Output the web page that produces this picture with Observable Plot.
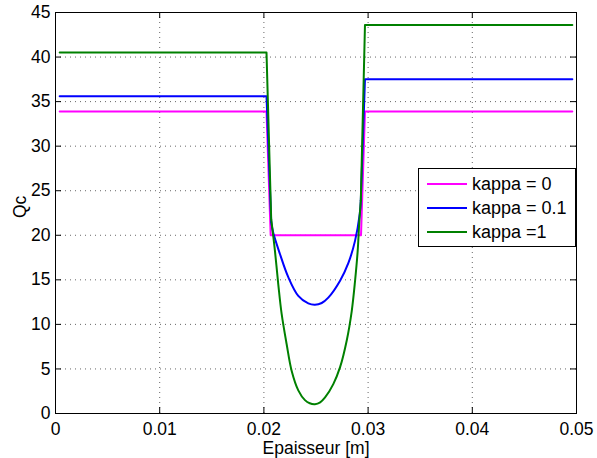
<!DOCTYPE html>
<html>
<head>
<meta charset="utf-8">
<script src="https://cdn.jsdelivr.net/npm/d3@7"></script>
<script src="https://cdn.jsdelivr.net/npm/@observablehq/plot@0.6"></script>
<style>
  html, body { margin: 0; padding: 0; background: white; }
  #wrap { position: relative; width: 597px; height: 458px; font-family: "Liberation Sans", Arial, sans-serif; }
  #legend { position: absolute; left: 418px; top: 168px; width: 158px; height: 79px; border: 1px solid #000; background: #fff; box-sizing: border-box; }
  .row { position: absolute; left: 0; height: 24px; display: flex; align-items: center; font-size: 18px; color: #000; white-space: nowrap; }
  .sw { width: 40px; height: 2px; margin-left: 8px; margin-right: 5px; }
</style>
</head>
<body>
<div id="wrap"></div>
<script>
// ---- data ----
const seriesNames = ["kappa = 0", "kappa = 0.1", "kappa =1"];
const seriesColors = ["#ff00ff", "#0000ff", "#008000"];

const xKappa0 = [0.0004, 0.02025, 0.02065, 0.02932, 0.0297, 0.0496];
const yKappa0 = [33.9, 33.9, 20.0, 20.0, 33.9, 33.9];

const xKappa01 = [0.0004, 0.02025, 0.0207, 0.02089, 0.02154, 0.02234, 0.0233, 0.02426, 0.0249, 0.02555, 0.02618, 0.02731, 0.02811, 0.02875, 0.0292, 0.0293, 0.0297, 0.0496];
const yKappa01 = [35.6, 35.6, 21.5, 20.3, 17.9, 15.3, 13.2, 12.35, 12.2, 12.4, 13.0, 14.9, 16.9, 19.4, 22.4, 23.9, 37.5, 37.5];

const xKappa1 = [0.0004, 0.02025, 0.0207, 0.02106, 0.02138, 0.0217, 0.02218, 0.02266, 0.0233, 0.02394, 0.0244, 0.0249, 0.0254, 0.02587, 0.02666, 0.02731, 0.02795, 0.02843, 0.02875, 0.029, 0.02916, 0.0293, 0.0297, 0.0496];
const yKappa1 = [40.5, 40.5, 21.8, 18.25, 14.5, 11.2, 7.8, 4.8, 2.6, 1.5, 1.15, 1.05, 1.25, 1.8, 3.3, 5.2, 8.2, 11.5, 14.9, 18.25, 21.6, 23.9, 43.6, 43.6];

const xTicks = [0, 0.01, 0.02, 0.03, 0.04, 0.05];
const xTickLabels = ["0", "0.01", "0.02", "0.03", "0.04", "0.05"];
const yTicks = [0, 5, 10, 15, 20, 25, 30, 35, 40, 45];
const yTickLabels = ["0", "5", "10", "15", "20", "25", "30", "35", "40", "45"];
const xLabel = "Epaisseur [m]";
const yLabel = "Qc";

// ---- build tables ----
function rows(xs, ys, s) { return xs.map((x, i) => ({x, y: ys[i], s, i, n: xs.length})); }
const all = [
  rows(xKappa0, yKappa0, 0),
  rows(xKappa01, yKappa01, 1),
  rows(xKappa1, yKappa1, 2)
];

const W = 597, H = 458;
const mL = 55, mR = 21, mT = 12, mB = 45;
const innerH = H - mT - mB, innerW = W - mL - mR;
const tick = 6;
const font = '"Liberation Sans", Arial, sans-serif';

const lineMarks = [];
all.forEach((data, s) => {
  const c = seriesColors[s];
  if (s === 0) {
    lineMarks.push(Plot.line(data, {x: "x", y: "y", stroke: c, strokeWidth: 2}));
  } else {
    const n = data.length;
    lineMarks.push(Plot.line(data.filter(d => d.i <= 2), {x: "x", y: "y", stroke: c, strokeWidth: 2}));
    lineMarks.push(Plot.line(data.filter(d => d.i >= 2 && d.i <= n - 3), {x: "x", y: "y", stroke: c, strokeWidth: 2, curve: "catmull-rom"}));
    lineMarks.push(Plot.line(data.filter(d => d.i >= n - 3), {x: "x", y: "y", stroke: c, strokeWidth: 2}));
  }
});

const chart = Plot.plot({
  width: W, height: H,
  marginLeft: mL, marginRight: mR, marginTop: mT, marginBottom: mB,
  style: {fontFamily: font, fontSize: "17.5px", background: "white", color: "black", overflow: "visible"},
  x: {domain: [0, 0.05], label: null},
  y: {domain: [0, 45], label: null},
  marks: [
    Plot.gridX(xTicks, {stroke: "#000", strokeOpacity: 0.6, strokeDasharray: "1,4"}),
    Plot.gridY(yTicks, {stroke: "#000", strokeOpacity: 0.6, strokeDasharray: "1,4"}),
    ...lineMarks,
    Plot.ruleX(xTicks, {insetTop: innerH - tick, stroke: "#000"}),
    Plot.ruleX(xTicks, {insetBottom: innerH - tick, stroke: "#000"}),
    Plot.ruleY(yTicks, {insetRight: innerW - tick, stroke: "#000"}),
    Plot.ruleY(yTicks, {insetLeft: innerW - tick, stroke: "#000"}),
    Plot.frame({stroke: "#000", strokeWidth: 1}),
    Plot.axisX(xTicks, {tickSize: 0, tickPadding: 9, label: null, tickFormat: d => xTickLabels[xTicks.indexOf(d)], fontSize: 17.5}),
    Plot.axisY(yTicks, {tickSize: 0, tickPadding: 5, label: null, tickFormat: d => yTickLabels[yTicks.indexOf(d)], fontSize: 17.5}),
    Plot.text([xLabel], {frameAnchor: "bottom", lineAnchor: "top", dy: 28, fontSize: 17.5, text: d => d}),
    Plot.text([yLabel], {frameAnchor: "left", rotate: -90, dx: -35, dy: 5, fontSize: 17.5, text: d => d})
  ]
});

const wrap = document.getElementById("wrap");
wrap.appendChild(chart);

// legend
const lg = document.createElement("div");
lg.id = "legend";
const rowTops = [3, 27, 51];
seriesNames.forEach((name, i) => {
  const r = document.createElement("div");
  r.className = "row";
  r.style.top = rowTops[i] + "px";
  const sw = document.createElement("span");
  sw.className = "sw";
  sw.style.background = seriesColors[i];
  const t = document.createElement("span");
  t.textContent = name;
  r.appendChild(sw); r.appendChild(t);
  lg.appendChild(r);
});
wrap.appendChild(lg);
</script>
</body>
</html>
